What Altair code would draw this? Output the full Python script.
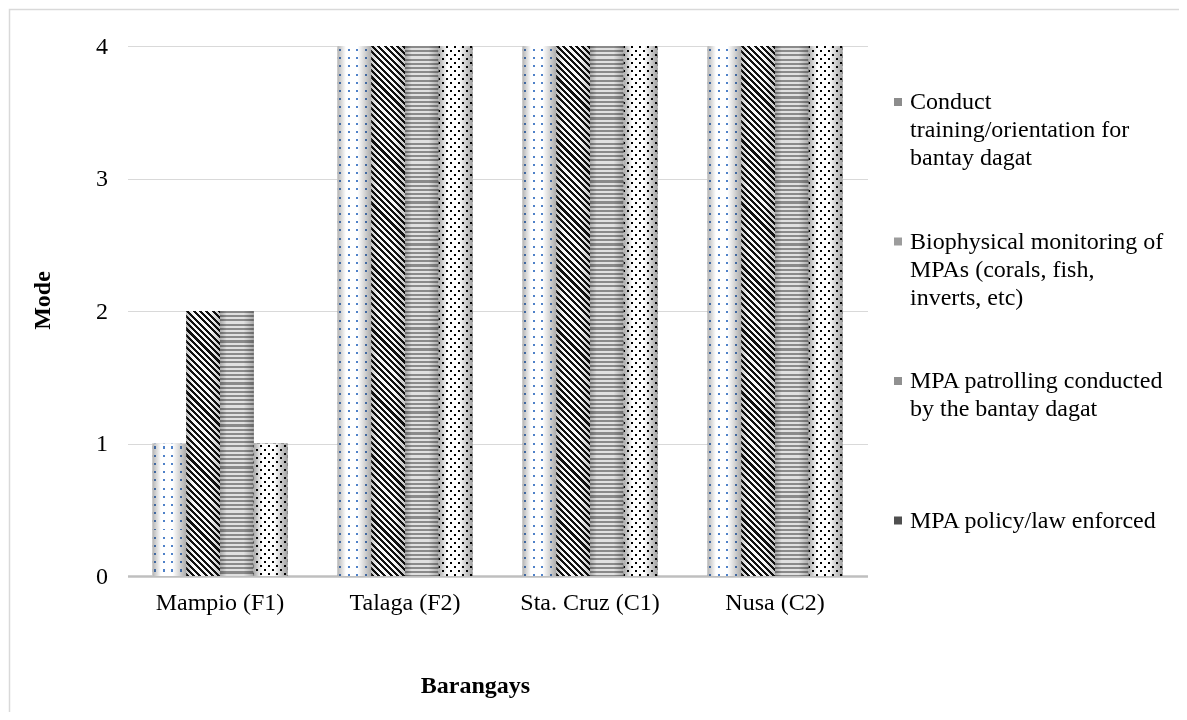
import math
import altair as alt
import pandas as pd

# ---------------- data ----------------
BARANGAYS = ["Mampio (F1)", "Talaga (F2)", "Sta. Cruz (C1)", "Nusa (C2)"]
SERIES = [
    "Conduct training/orientation for bantay dagat",
    "Biophysical monitoring of MPAs (corals, fish, inverts, etc)",
    "MPA patrolling conducted by the bantay dagat",
    "MPA policy/law enforced",
]
CONDUCT = [1, 4, 4, 4]
BIOPHYSICAL = [2, 4, 4, 4]
PATROLLING = [2, 4, 4, 4]
POLICY = [1, 4, 4, 4]
LEGEND_LINES = [
    ["Conduct", "training/orientation for", "bantay dagat"],
    ["Biophysical monitoring of", "MPAs (corals, fish,", "inverts, etc)"],
    ["MPA patrolling conducted", "by the bantay dagat"],
    ["MPA policy/law enforced"],
]
Y_TICKS = [0, 1, 2, 3, 4]

rows = []
for s, vals in zip(SERIES, [CONDUCT, BIOPHYSICAL, PATROLLING, POLICY]):
    for b, v in zip(BARANGAYS, vals):
        rows.append({"Barangay": b, "Series": s, "Mode": v})
df = pd.DataFrame(rows)

# ---------------- layout ----------------
PLOT_W, PLOT_H = 740, 530
Y_MAX = 4
PAD_INNER, PAD_OUTER = 0.27, 0.135
STEP = PLOT_W / (len(BARANGAYS) - PAD_INNER + 2 * PAD_OUTER)
BAR_W = STEP * (1 - PAD_INNER) / len(SERIES)
H_UNIT = PLOT_H / Y_MAX
FONT = "Liberation Serif"
FS = 24


# ---------------- pattern fills (gradients) ----------------
def stripe_stops(span, period, on_w, phase, on, off):
    def col(x):
        return on if ((x - phase) % period) < on_w else off

    pts = []
    k = math.floor(-phase / period) - 1
    while True:
        a = phase + k * period
        if a > span:
            break
        for x in (a, a + on_w):
            if 0 < x < span:
                pts.append(x)
        k += 1
    pts.sort()
    stops = [{"offset": 0, "color": col(0)}]
    for x in pts:
        o = round(x / span, 5)
        stops.append({"offset": o, "color": col(x - 1e-6)})
        stops.append({"offset": o, "color": col(x + 1e-6)})
    stops.append({"offset": 1, "color": col(span)})
    return stops


def pattern(kind, w, h, period, on_w, phase, on, off):
    if kind == "rows":
        p1, p2, span = (0, 0), (0, 1), h
    elif kind == "cols":
        p1, p2, span = (0, 0), (1, 0), w
    elif kind == "back":  # "\" stripes
        span = w + h
        c = span / (w * w + h * h)
        p1, p2 = (0, 1), (w * c, 1 - h * c)
    else:  # "/" stripes
        span = w + h
        c = span / (w * w + h * h)
        p1, p2 = (0, 0), (w * c, h * c)
    return {
        "gradient": "linear",
        "x1": round(p1[0], 6), "y1": round(p1[1], 6),
        "x2": round(p2[0], 6), "y2": round(p2[1], 6),
        "stops": stripe_stops(span, period, on_w, phase, on, off),
    }


def shading(edge_l, edge_r, a=0.25, b=0.6):
    return {
        "gradient": "linear", "x1": 0, "y1": 0, "x2": 1, "y2": 0,
        "stops": [
            {"offset": 0, "color": edge_l},
            {"offset": a, "color": "#ffffff"},
            {"offset": b, "color": "#ffffff"},
            {"offset": 1, "color": edge_r},
        ],
    }


# ---------------- base chart ----------------
base = alt.Chart(df).encode(
    x=alt.X(
        "Barangay:N", sort=BARANGAYS,
        scale=alt.Scale(paddingInner=PAD_INNER, paddingOuter=PAD_OUTER),
        axis=alt.Axis(
            title="Barangays", labelAngle=0, ticks=False, tickSize=0,
            domainColor="#bfbfbf", domainWidth=2.5, grid=False,
            labelPadding=14, labelFont=FONT, labelFontSize=FS, labelColor="#000000",
            titleFont=FONT, titleFontSize=FS, titleFontWeight="bold", titleColor="#000000",
            titleX=347.5, titleY=109, titleBaseline="middle", titleAlign="center",
        ),
    ),
    xOffset=alt.XOffset("Series:N", sort=SERIES,
                        scale=alt.Scale(paddingInner=0, paddingOuter=0)),
    y=alt.Y(
        "Mode:Q", scale=alt.Scale(domain=[0, Y_MAX], nice=False),
        axis=alt.Axis(
            values=Y_TICKS, format="d", domain=False, ticks=False, tickSize=0,
            grid=True, gridColor="#d9d9d9", gridWidth=1,
            labelPadding=20, labelFont=FONT, labelFontSize=FS, labelColor="#000000",
            title="Mode", titleFont=FONT, titleFontSize=FS, titleFontWeight="bold",
            titleColor="#000000", titleX=-85, titleY=254, titleAngle=270,
            titleBaseline="middle", titleAlign="center",
        ),
    ),
)

# legend labels: multi-line, padded with trailing blanks to equal line counts
label_expr = ""
for s, lines in zip(SERIES, LEGEND_LINES):
    padded = lines + [""] * (5 - len(lines))
    arr = "[" + ",".join("'" + l + "'" for l in padded) + "]"
    label_expr += f"datum.label == '{s}' ? {arr} : "
label_expr += "datum.label"

LEGEND_COLORS = ["#8c8c8c", "#9c9c9c", "#909090", "#4f4f4f"]

legend_layer = base.mark_bar().encode(
    color=alt.Color(
        "Series:N", sort=SERIES,
        scale=alt.Scale(domain=SERIES, range=LEGEND_COLORS),
        legend=alt.Legend(
            title=None, orient="none", legendX=758.5, legendY=44,
            symbolType="square", symbolSize=64, symbolStrokeWidth=0,
            labelFont=FONT, labelFontSize=FS, labelColor="#000000",
            labelBaseline="middle", labelOffset=0, labelLimit=700,
            labelExpr=label_expr, rowPadding=3.5, padding=0,
        ),
    )
)

layers = [legend_layer]
series_vals = dict(zip(SERIES, [CONDUCT, BIOPHYSICAL, PATROLLING, POLICY]))
for si, s in enumerate(SERIES):
    for v in sorted(set(series_vals[s])):
        h = v * H_UNIT
        w = BAR_W
        sub = base.transform_filter((alt.datum.Series == s) & (alt.datum.Mode == v))
        if si == 0:
            fills = [
                (pattern("cols", w, h, 8.5, 2.0, 1.7, "#4f81c8", "#ffffff"), None),
                (pattern("rows", w, h, 8.2, 2.0, 3.0, "#000000", "#ffffff"), "screen"),
                (shading("#b4b4b4", "#acacac"), "multiply"),
            ]
        elif si == 1:
            fills = [
                (pattern("back", w, h, 6.3, 3.1, 0.0, "#111111", "#f8f8f8"), None),
                (shading("#c8c8c8", "#c8c8c8", 0.2, 0.7), "multiply"),
            ]
        elif si == 2:
            fills = [
                (pattern("rows", w, h, 4.2, 2.1, 0.0, "#8a8a8a", "#e0e0e0"), None),
                (shading("#c0c0c0", "#c0c0c0", 0.2, 0.7), "multiply"),
            ]
        else:
            fills = [
                (pattern("back", w, h, 8.0, 3.0, 0.0, "#000000", "#ffffff"), None),
                (pattern("fwd", w, h, 8.0, 3.0, 0.0, "#000000", "#ffffff"), "screen"),
                (shading("#a8a8a8", "#a0a0a0"), "multiply"),
            ]
        for fill, blend in fills:
            if blend:
                layers.append(sub.mark_bar(fill=fill, blend=blend))
            else:
                layers.append(sub.mark_bar(fill=fill))

frame = alt.Chart(pd.DataFrame({"frame": [0]})).mark_rect(
    filled=False, stroke="#d9d9d9", strokeWidth=1.5
).encode(
    x=alt.value(-118), x2=alt.value(1100),
    y=alt.value(-36.5), y2=alt.value(700),
)
layers.append(frame)

chart = alt.layer(*layers).properties(
    width=PLOT_W, height=PLOT_H,
    autosize=alt.AutoSizeParams(type="none"),
    padding={"left": 119.5, "top": 38, "right": 311.5, "bottom": 136},
).configure(
    background="#ffffff",
    view=alt.ViewConfig(strokeWidth=0),
    style={"guide-label": {"lineHeight": 28}},
)

chart.save("out.html", embed_options={"renderer": "svg", "actions": False})
